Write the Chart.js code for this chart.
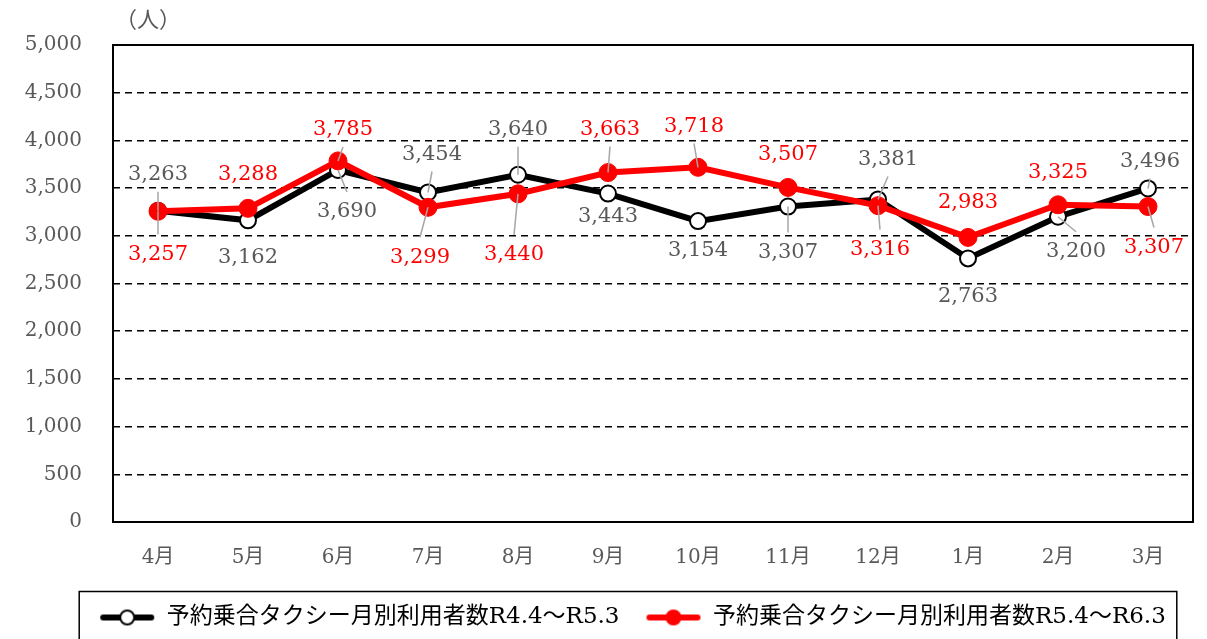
<!DOCTYPE html>
<html lang="ja">
<head>
<meta charset="utf-8">
<script src="https://cdn.jsdelivr.net/npm/chart.js@4.4.1/dist/chart.umd.min.js"></script>
<style>
  html, body { margin: 0; padding: 0; background: #fff; overflow: hidden; }
  #wrap { width: 1207px; height: 639px; position: relative; }
</style>
</head>
<body>
<div id="wrap"><canvas id="chart"></canvas></div>
<script>
// data
const months = ["4月", "5月", "6月", "7月", "8月", "9月", "10月", "11月", "12月", "1月", "2月", "3月"];
const usersR4 = [3263, 3162, 3690, 3454, 3640, 3443, 3154, 3307, 3381, 2763, 3200, 3496];
const usersR5 = [3257, 3288, 3785, 3299, 3440, 3663, 3718, 3507, 3316, 2983, 3325, 3307];
const seriesNames = ["予約乗合タクシー月別利用者数R4.4～R5.3", "予約乗合タクシー月別利用者数R5.4～R6.3"];
const yMax = 5000;
const yStep = 500;
const yUnit = "（人）";

// label placement relative to the point: [dx, dy, leader line?]
const labelPosR4 = [[0, -36, 1], [0, 37, 0], [9, 42, 1], [4, -38, 1], [0, -45, 1], [0, 23, 0],
  [0, 29, 0], [0, 46, 1], [10, -40, 1], [0, 38, 0], [18, 35, 1], [2, -27, 1]];
const labelPosR5 = [[0, 43, 1], [0, -34, 0], [5, -31, 1], [-8, 50, 1], [-4, 61, 1], [2, -43, 1],
  [-4, -41, 1], [0, -33, 0], [2, 44, 1], [0, -35, 0], [0, -32, 0], [6, 41, 1]];

const SERIF = "'DejaVu Serif', 'Noto Sans CJK JP', serif";
const GRAY = "#595959";

function legendSymbol(fill, stroke) {
  const c = document.createElement("canvas");
  c.width = 56;
  c.height = 22;
  const g = c.getContext("2d");
  g.strokeStyle = stroke;
  g.lineWidth = 6;
  g.lineCap = "round";
  g.beginPath();
  g.moveTo(4, 11);
  g.lineTo(52, 11);
  g.stroke();
  g.beginPath();
  g.arc(28, 11, 7, 0, Math.PI * 2);
  g.fillStyle = fill;
  g.fill();
  g.lineWidth = 2;
  g.stroke();
  return c;
}

const valueLabels = {
  id: "valueLabels",
  afterDatasetsDraw(chart) {
    const ctx = chart.ctx;
    const sets = [[0, labelPosR4, GRAY], [1, labelPosR5, "#ff0000"]];
    ctx.save();
    ctx.font = "21px " + SERIF;
    ctx.textAlign = "center";
    ctx.textBaseline = "middle";
    sets.forEach(([di, pos, color]) => {
      const meta = chart.getDatasetMeta(di);
      const values = chart.data.datasets[di].data;
      meta.data.forEach((pt, i) => {
        const [dx, dy, leader] = pos[i];
        const lx = pt.x + dx;
        const ly = pt.y + dy;
        if (leader) {
          ctx.strokeStyle = "#a6a6a6";
          ctx.lineWidth = 1.5;
          ctx.beginPath();
          ctx.moveTo(lx, ly + (dy < 0 ? 17 : -20));
          ctx.lineTo(pt.x, pt.y);
          ctx.stroke();
        }
        ctx.fillStyle = color;
        ctx.fillText(values[i].toLocaleString("en-US"), lx, ly);
      });
    });
    ctx.restore();
  }
};

// legend sits a little right of centre in the original
const legendShift = {
  id: "legendShift",
  afterLayout(chart) {
    if (chart.legend) {
      chart.legend.left += 36;
      chart.legend.right += 36;
    }
  }
};

const frame = {
  id: "frame",
  afterDraw(chart) {
    const ctx = chart.ctx;
    const a = chart.chartArea;
    ctx.save();
    ctx.strokeStyle = "#000";
    ctx.lineWidth = 2;
    ctx.strokeRect(a.left, a.top, a.right - a.left, a.bottom - a.top);

    // unit label
    ctx.fillStyle = GRAY;
    ctx.font = "22px " + SERIF;
    ctx.textAlign = "center";
    ctx.textBaseline = "middle";
    ctx.fillText(yUnit, a.left + 35, 21);

    // legend border
    const lg = chart.legend;
    if (lg && lg.legendHitBoxes.length) {
      const hb = lg.legendHitBoxes;
      const left = hb[0].left - 20;
      const last = hb[hb.length - 1];
      const right = last.left + last.width + 11;
      const top = hb[0].top + hb[0].height / 2 - 26;
      ctx.lineWidth = 1.5;
      ctx.strokeRect(left, top, right - left, 80);
    }
    ctx.restore();
  }
};

const ctx = document.getElementById("chart").getContext("2d");
new Chart(ctx, {
  type: "line",
  data: {
    labels: months,
    datasets: [
      {
        label: seriesNames[0],
        data: usersR4,
        borderColor: "#000",
        borderWidth: 6,
        backgroundColor: "#fff",
        pointBackgroundColor: "#fff",
        pointBorderColor: "#000",
        pointBorderWidth: 2,
        pointRadius: 8,
        tension: 0,
        order: 1,
      },
      {
        label: seriesNames[1],
        data: usersR5,
        borderColor: "#ff0000",
        borderWidth: 6,
        backgroundColor: "#ff0000",
        pointBackgroundColor: "#ff0000",
        pointBorderColor: "#ff0000",
        pointBorderWidth: 1,
        pointRadius: 9,
        tension: 0,
        order: 0,
      },
    ],
  },
  options: {
    responsive: true,
    maintainAspectRatio: false,
    animation: false,
    layout: { padding: { left: 0, right: 14, top: 45, bottom: 0 } },
    plugins: {
      tooltip: { enabled: false },
      legend: {
        position: "bottom",
        labels: {
          usePointStyle: true,
          pointStyleWidth: 56,
          padding: 26,
          color: "#000",
          font: { size: 23, family: SERIF },
          generateLabels(chart) {
            return chart.data.datasets.map((ds, i) => ({
              text: ds.label,
              datasetIndex: i,
              pointStyle: i === 0 ? legendSymbol("#fff", "#000") : legendSymbol("#ff0000", "#ff0000"),
              fillStyle: ds.borderColor,
              strokeStyle: ds.borderColor,
              lineWidth: 0,
              hidden: false,
            }));
          },
        },
      },
    },
    scales: {
      x: {
        offset: true,
        grid: { display: false, drawTicks: false, offset: true },
        border: { display: false },
        ticks: { color: GRAY, padding: 24, font: { size: 20, family: SERIF } },
        afterFit(scale) {
          scale.height = 58;
          scale.paddingLeft = 0;
          scale.paddingRight = 0;
        },
      },
      y: {
        min: 0,
        max: yMax,
        grid: {
          drawTicks: false,
          lineWidth: 1.5,
          color: (c) => (c.tick && (c.tick.value === 0 || c.tick.value === yMax) ? "rgba(0,0,0,0)" : "#000"),
        },
        border: { display: false, dash: [7, 5] },
        ticks: {
          stepSize: yStep,
          color: GRAY,
          padding: 31,
          font: { size: 20, family: SERIF },
          callback: (v) => v.toLocaleString("en-US"),
        },
        afterFit(scale) { scale.width = 113; },
      },
    },
  },
  plugins: [valueLabels, legendShift, frame],
});
</script>
</body>
</html>
